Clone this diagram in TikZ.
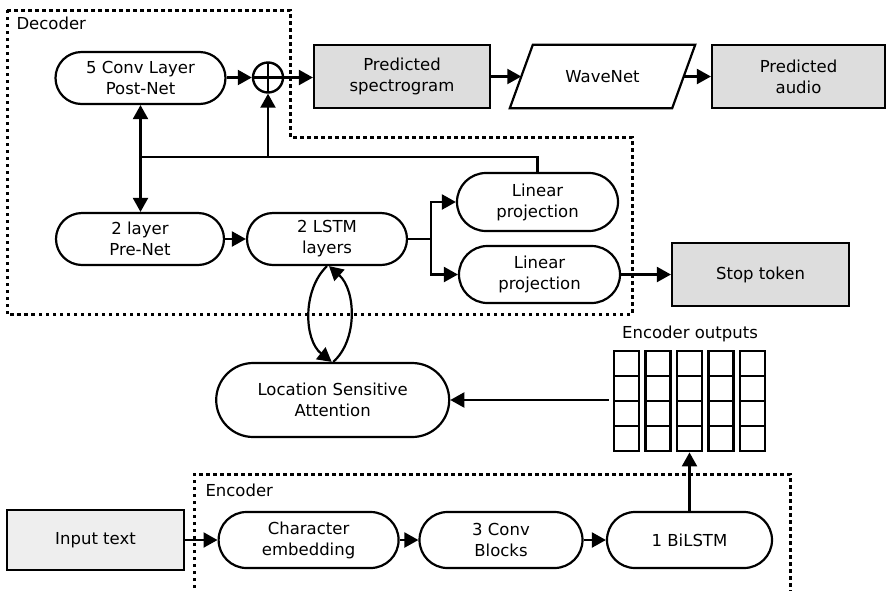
\documentclass[tikz,border=0pt]{standalone}
\usepackage{fontspec}
\setmainfont{DejaVu Sans}
\usetikzlibrary{arrows.meta,fit}
\definecolor{boxfill}{HTML}{DDDDDD}
\definecolor{inputfill}{HTML}{EEEEEE}
\tikzset{
  pill/.style={draw, line width=2.2, align=center, inner sep=0},
  graybox/.style={draw, line width=2.2, align=center, inner sep=0, fill=boxfill},
  arr/.style={-{Triangle[length=14pt,width=15pt]}, line width=2.2},
  dotline/.style={line width=3, dash pattern=on 3.5pt off 3.5pt},
  cell/.style={draw, line width=2.4, minimum size=25, inner sep=0},
  plain/.style={line width=2.2}
}
\begin{document}
\begin{tikzpicture}[x=1pt,y=-1pt,font=\fontsize{16.5}{21}\selectfont]
\useasboundingbox (0,0) rectangle (886,590);

% decoder frame
\draw[dotline] (7,10) -- (290,10) -- (290,137) -- (632,137) -- (632,314) -- (7,314) -- cycle;
\node[anchor=west] (declabel) at (13,23) {Decoder};

% encoder frame
\draw[dotline] (194,595) -- (194,474) -- (790,474) -- (790,595);
\node[anchor=west] (enclabel) at (202,490) {Encoder};

% decoder nodes
\node[pill, minimum width=170, minimum height=52, rounded corners=26] (postnet) at (140.5,78) {5 Conv Layer\\Post-Net};
\node[pill, minimum width=168, minimum height=52, rounded corners=26] (prenet) at (140,239) {2 layer\\Pre-Net};
\node[pill, minimum width=160, minimum height=52, rounded corners=26] (lstm) at (327,239) {2 LSTM\\layers};
\node[pill, minimum width=161, minimum height=58, rounded corners=29] (lp1) at (537.5,202) {Linear\\projection};
\node[pill, minimum width=161, minimum height=57, rounded corners=28.5] (lp2) at (539.5,274.5) {Linear\\projection};
\node[circle, draw, line width=2.4, minimum size=30, inner sep=0,
  path picture={\draw[line width=2.4] (path picture bounding box.north) -- (path picture bounding box.south)
  (path picture bounding box.west) -- (path picture bounding box.east);}] (oplus) at (268,77.5) {};

\node[graybox, minimum width=176, minimum height=63] (spec) at (402,76.5) {Predicted\\spectrogram};
\node[minimum width=185, minimum height=63, inner sep=0] (wavenet) at (602.5,76.5) {WaveNet};
\draw[line width=2.2, line join=miter] (wavenet.south west) -- ([xshift=23pt]wavenet.north west)
  -- (wavenet.north east) -- ([xshift=-23pt]wavenet.south east) -- cycle;
\node[graybox, minimum width=173, minimum height=63] (audio) at (798.5,76.5) {Predicted\\audio};
\node[graybox, minimum width=177, minimum height=63] (stop) at (760.5,274.5) {Stop token};

% attention and encoder outputs
\node[pill, minimum width=233, minimum height=74, rounded corners=37] (att) at (332.7,400) {Location Sensitive\\Attention};
\foreach \i in {1,...,5}{
  \foreach \j in {1,...,4}{
    \node[cell] (c-\i-\j) at ({626.5+31.5*(\i-1)},{363.5+25*(\j-1)}) {};
  }
}
\node[fit=(c-1-1)(c-5-4), inner sep=0] (encgrid) {};
\node (eolabel) at (690,334) {Encoder outputs};

% encoder nodes
\node[draw, line width=2.2, fill=inputfill, minimum width=177, minimum height=60, inner sep=0] (input) at (95.5,540) {Input text};
\node[pill, minimum width=180, minimum height=56, rounded corners=28] (charemb) at (308.6,540) {Character\\embedding};
\node[pill, minimum width=163, minimum height=56, rounded corners=28] (conv) at (501,540) {3 Conv\\Blocks};
\node[pill, minimum width=165, minimum height=56, rounded corners=28] (bilstm) at (689.5,540) {1 BiLSTM};

% connectors (decoder)
\draw[arr] (postnet.east |- oplus.west) -- (oplus.west);
\draw[arr] (oplus.east) -- (spec.west |- oplus.east);
\draw[arr] (spec.east) -- ([xshift=11.5pt]wavenet.west);
\draw[arr] ([xshift=-11.5pt]wavenet.east) -- (audio.west);
\draw[{Triangle[length=14pt,width=15pt]}-{Triangle[length=14pt,width=15pt]}, line width=2.2]
  (postnet.south) -- (postnet.south |- prenet.north);
\coordinate (j1) at (140.5,157);
\coordinate (j2) at (537.5,157);
\draw[plain] (j1) -- (j2) -- (j2 |- lp1.north);
\draw[arr] (oplus.south |- j1) -- (oplus.south);
\draw[arr] (prenet.east) -- (lstm.west);
\coordinate (branch) at (431,239);
\draw[plain] (lstm.east) -- (branch);
\draw[arr] (branch) |- (lp1.west);
\draw[arr] (branch) |- (lp2.west);
\draw[arr] (lp2.east) -- (stop.west);

% lstm <-> attention
\draw[arr] (lstm.south) .. controls (302,290) and (304,340) .. ([xshift=-1pt]att.north);
\draw[arr] ([xshift=0.5pt]att.north) .. controls (358,340) and (356,290) .. ([xshift=2pt]lstm.south);

% encoder outputs -> attention
\draw[arr] ([xshift=-4pt]encgrid.west |- att.east) -- (att.east);
\draw[arr] (bilstm.north) -- (bilstm.north |- encgrid.south);

% encoder chain
\draw[arr] (input.east) -- (charemb.west);
\draw[arr] (charemb.east) -- (conv.west);
\draw[arr] (conv.east) -- (bilstm.west);
\end{tikzpicture}
\end{document}
